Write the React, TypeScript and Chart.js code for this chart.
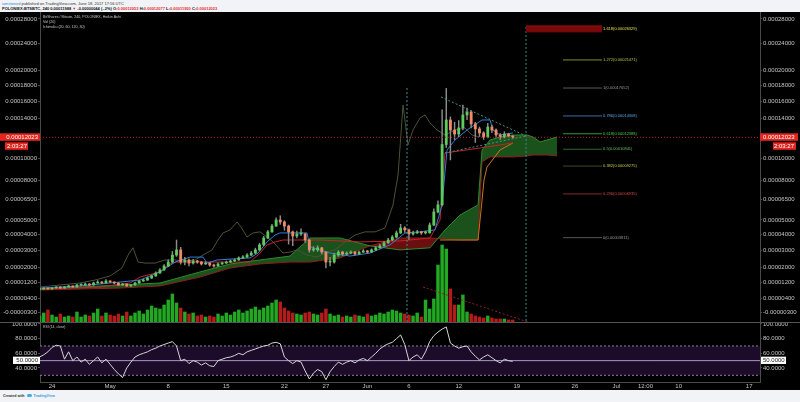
import React, { useEffect, useRef } from 'react';
import Chart from 'chart.js/auto';

// BTS/BTC Heikin Ashi bars, resampled to 12h, prices in satoshi (1e-8 BTC).
// x positions are days counted from Apr 24 2017.
const candleStart = -1.5;
const candleStep = 0.5;
// [open, high, low, close]
const candles = [
  [830, 880, 810, 850], [850, 920, 840, 900], [900, 910, 830, 850], [850, 930, 840, 900],
  [900, 980, 890, 955], [955, 970, 880, 900], [900, 990, 890, 955], [955, 1050, 940, 1010],
  [1010, 1020, 930, 955], [955, 1100, 950, 1060], [1060, 1110, 1010, 1060], [1060, 1160, 1040, 1110],
  [1110, 1130, 1030, 1060], [1060, 1210, 1050, 1165], [1165, 1290, 1150, 1215], [1215, 1240, 1130, 1165],
  [1165, 1340, 1150, 1270], [1270, 1290, 1190, 1215], [1215, 1230, 1120, 1165], [1165, 1180, 1030, 1060],
  [1060, 1150, 1040, 1110], [1110, 1120, 990, 1010], [1010, 1100, 990, 1060], [1060, 1210, 1050, 1165],
  [1165, 1320, 1150, 1270], [1270, 1380, 1250, 1320], [1320, 1480, 1300, 1430], [1430, 1600, 1400, 1540],
  [1540, 1760, 1520, 1700], [1700, 1950, 1680, 1870], [1870, 2180, 1850, 2090], [2090, 2450, 2050, 2320],
  [2320, 2950, 2280, 2730], [2730, 3660, 2650, 3040], [3040, 3200, 2200, 2320], [2320, 2600, 2150, 2440],
  [2440, 2500, 2100, 2260], [2260, 2480, 2200, 2380], [2380, 2420, 2250, 2320], [2320, 2360, 2150, 2210],
  [2210, 2330, 2180, 2260], [2260, 2290, 2080, 2150], [2150, 2200, 2030, 2090], [2090, 2270, 2070, 2210],
  [2210, 2320, 2190, 2260], [2260, 2380, 2240, 2320], [2320, 2440, 2300, 2380], [2380, 2500, 2350, 2440],
  [2440, 2630, 2420, 2560], [2560, 2700, 2530, 2610], [2610, 2820, 2590, 2730], [2730, 2950, 2700, 2850],
  [2850, 3150, 2820, 3040], [3040, 3450, 3000, 3350], [3350, 3900, 3300, 3790], [3790, 4300, 3750, 4190],
  [4190, 4700, 4150, 4580], [4580, 5150, 4550, 5000], [5000, 5300, 4700, 4860], [4860, 4950, 4300, 4580],
  [4580, 4650, 3400, 4190], [4190, 4250, 3300, 3920], [3920, 4250, 3800, 4050], [4050, 4400, 3950, 4050],
  [4050, 4100, 3500, 3660], [3660, 3700, 2900, 3040], [3040, 3250, 2950, 3040], [3040, 3300, 2950, 3170],
  [3170, 3200, 2800, 2910], [2910, 2950, 1980, 2320], [2320, 2600, 2100, 2320], [2320, 2850, 2250, 2730],
  [2730, 3000, 2650, 2910], [2910, 2960, 2700, 2790], [2790, 2920, 2740, 2850], [2850, 2990, 2800, 2910],
  [2910, 2950, 2720, 2790], [2790, 2970, 2760, 2910], [2910, 3060, 2880, 2980], [2980, 3010, 2850, 2910],
  [2910, 3110, 2890, 3040], [3040, 3250, 3000, 3170], [3170, 3380, 3140, 3290], [3290, 3580, 3250, 3480],
  [3480, 3760, 3450, 3660], [3660, 3950, 3620, 3850], [3850, 4250, 3800, 4120], [4120, 4700, 4080, 4450],
  [4450, 4550, 4150, 4320], [4320, 4380, 3700, 4050], [4050, 4250, 3980, 4120], [4120, 4300, 4080, 4190],
  [4190, 4230, 4020, 4120], [4120, 4250, 4050, 4120], [4120, 4800, 4100, 4650], [4650, 5800, 4600, 5570],
  [5570, 6400, 5500, 6100], [6100, 15000, 6000, 11300], [11300, 17600, 11000, 13860], [13860, 14200, 9830, 12780],
  [12780, 13600, 11800, 12360], [12360, 13800, 12100, 13000], [13000, 15570, 12800, 14420], [14420, 15200, 13900, 14770],
  [14770, 14900, 13000, 13430], [13430, 13600, 11500, 12890], [12890, 13100, 12100, 12470], [12470, 12600, 11800, 12050],
  [12050, 13500, 11950, 13100], [13100, 13300, 12500, 12780], [12780, 12900, 12000, 12260], [12260, 12400, 11800, 12050],
  [12050, 12600, 11950, 12360], [12360, 12450, 12000, 12160], [12160, 12200, 11950, 12023],
];
const volumes = [
  6, 9, 12, 7, 5, 8, 5, 6, 5, 10,
  5, 7, 6, 9, 13, 6, 9, 7, 6, 8,
  6, 10, 6, 9, 11, 8, 12, 16, 14, 13,
  17, 22, 28, 19, 14, 10, 8, 9, 6, 7,
  5, 6, 5, 8, 6, 9, 7, 10, 12, 9,
  11, 13, 15, 12, 14, 16, 19, 22, 20, 14,
  11, 9, 8, 7, 9, 10, 8, 7, 9, 13,
  8, 6, 7, 5, 6, 5, 7, 6, 5, 8,
  6, 7, 9, 8, 10, 12, 11, 9, 8, 7,
  6, 9, 5, 22, 13, 23, 57, 77, 73, 33,
  17, 17, 27, 10, 8, 6, 5, 4, 6, 4,
  3, 3, 3, 2, 2,
];
const rsiValues = [
  55, 58, 62, 68, 71, 70, 52, 62, 50, 55,
  48, 52, 45, 50, 55, 47, 52, 45, 38, 32,
  27, 40, 48, 55, 58, 60, 62, 65, 67, 70,
  72, 74, 76, 70, 50, 52, 46, 50, 48, 44,
  47, 43, 42, 50, 52, 54, 55, 57, 60, 58,
  62, 64, 66, 68, 70, 71, 74, 75, 73, 55,
  50, 46, 50, 48, 36, 25, 33, 38, 35, 24,
  35, 42, 48, 45, 48, 50, 47, 51, 53, 50,
  55, 60, 66, 70, 73, 75, 80, 85, 72, 50,
  55, 58, 52, 62, 76, 84, 89, 93, 96, 74,
  70, 67, 69, 70, 62, 56, 51, 55, 58, 54,
  50, 47, 52, 50, 49,
];

// ichimoku lines, [day, price]
const tenkanLine = [
  [-1.45, 900], [3.37, 1010], [6.99, 1165], [10.6, 1320], [13.01, 1760], [14.82, 2320], [16.63, 2610],
  [18.19, 2610], [18.67, 2260], [19.88, 2440], [23.86, 2560], [24.82, 2850], [25.9, 3540], [26.87, 3980],
  [27.47, 4120], [30.72, 4120], [31.08, 3230], [32.29, 3040], [33.49, 2850], [35.9, 2670], [38.31, 2850],
  [40.72, 3350], [42.53, 4120], [44.34, 4190], [46.14, 4320], [46.99, 6090], [47.59, 10770], [48.55, 11750],
  [50.0, 12780], [51.81, 13860], [52.77, 13860], [53.13, 12780], [53.98, 12260], [55.54, 12470],
];
const kijunLine = [
  [-1.45, 850], [5.78, 955], [9.4, 1165], [10.6, 1480], [13.01, 1760], [14.22, 2210], [15.0, 2320],
  [23.86, 2320], [25.06, 2850], [25.9, 3350], [26.87, 3540], [27.83, 3660], [32.29, 3660], [37.11, 3540],
  [41.93, 3600], [45.54, 3790], [46.75, 5000], [47.35, 10480], [52.41, 11060], [53.98, 11260], [55.54, 11460],
];
const orangeLine = [[46.75, 3660], [51.33, 3660], [52.05, 8070], [52.41, 9190], [53.98, 10770], [55.54, 11460]];
const laggingLine = [
  [-1.45, 955], [0.96, 1060], [3.37, 1165], [5.18, 1320], [6.99, 1540], [8.43, 1980], [9.16, 2730],
  [9.76, 3170], [10.36, 2320], [11.2, 2260], [12.41, 2260], [13.61, 2440], [14.82, 2440], [16.02, 2380],
  [17.23, 2440], [18.19, 2730], [19.28, 3040], [20.0, 3660], [20.6, 4120], [21.45, 4320], [22.29, 4860],
  [22.77, 4520], [23.49, 3850], [24.22, 4120], [25.06, 4190], [25.9, 3850], [26.63, 3540], [27.83, 2850],
  [28.67, 2910], [29.52, 3040], [30.72, 2730], [31.93, 2610], [33.13, 2910], [34.1, 3040], [35.3, 3540],
  [36.51, 3980], [37.71, 4190], [38.92, 4190], [40.12, 4450], [41.08, 6090], [41.69, 8500], [42.29, 15570],
  [42.89, 11260], [43.49, 12780], [44.34, 14080], [44.94, 14420], [45.54, 13540], [46.39, 12780],
  [47.35, 12260], [48.55, 12780], [49.76, 12990], [50.6, 12260], [51.45, 12050],
];
const cloudDays = [
  -1.45, 3.37, 8.19, 13.01, 17.83, 21.45, 25.06, 28.67, 31.08, 34.7, 38.31, 41.93, 45.54,
  47.35, 49.16, 51.33, 51.81, 52.77, 53.98, 55.54, 57.23, 57.95, 58.8, 59.64, 60.84,
];
const spanA = [
  850, 955, 1060, 1165, 1760, 2210, 2440, 2670, 3790, 3790, 3290, 3040, 3170,
  4320, 5350, 6090, 10770, 11750, 12050, 12260, 12260, 12050, 11550, 11750, 12050,
];
const spanB = [
  800, 850, 900, 1010, 1480, 1980, 2210, 2320, 2320, 2560, 3290, 3790, 3790,
  3720, 3660, 3660, 9650, 10110, 10110, 10110, 10200, 10290, 10290, 10290, 10200,
];

// drawings
const fibRatios = ['1.618', '1.272', '1', '0.786', '0.618', '0.5', '0.382', '0.236', '0'];
const fibPrices = [26329, 21471, 17652, 14308, 12388, 10841, 9275, 6935, 3811];
const fibFromDay = 61.57;
const fibToDay = 66.27;
const fibBandDay = 57.11;
const fibBand = [25800, 26800];
const triangleUpper = [[46.87, 16530], [57.11, 12160]];
const triangleLower = [[47.35, 10480], [57.11, 12160]];
const markerA = [[42.77, 17660], [42.77, -714]];
const markerB = [[57.11, 26630], [57.11, -714]];
const volumeTrend = [[44.7, 955], [57.35, -714]];

const priceTicks = [28000, 24000, 20000, 18000, 16000, 14000, 10000, 8000, 6500, 5000, 4000, 3000, 2000, 1200, 400, -300];
const rsiTicks = [40, 60, 80, 100];
const rsiLevels = [70, 30, 50];
const dateTicks = [0, 7, 14, 21, 28, 33, 38, 43, 49, 56, 63, 68, 71.5, 75.5, 84];
const dateLabels = ['24', 'May', '8', '15', '22', '27', 'Jun', '6', '12', '19', '26', 'Jul', '12:00', '10', '17'];

const priceMin = -714;
const priceMax = 29230;
const xMin = -1.45;
const xMax = 85.3;
const volAxisMax = 310;
const rsiMin = 20.9;
const rsiMax = 102.7;

// the price pane uses a shifted log scale (it shows negative ticks)
const toAxis = (sat) => Math.log(sat / 1000 + 10.4);
const fromAxis = (v) => (Math.exp(v) - 10.4) * 1000;

const fibLineColors = ['#d04848', '#7f8f2a', '#5a5a5a', '#3b6ea8', '#2f9a2f', '#2f6a2f', '#3e4a2a', '#8a2a2a', '#555555'];
const fibTextColors = ['#e8e040', '#b8c848', '#9a9a9a', '#5aa8e8', '#44d044', '#66c266', '#c8c850', '#d84848', '#9a9a9a'];
const FONT = 'Liberation Sans';
const axisFont = { family: FONT, size: 6 };
const axisColor = '#4a4a4a';
const labelColor = '#c4c4c4';

const candleDay = (i) => candleStart + i * candleStep;

const line = (points, color, extra = {}) => ({
  type: 'line',
  data: points.map(([d, p]) => ({ x: d, y: toAxis(p) })),
  borderColor: color,
  borderWidth: 1,
  pointRadius: 0,
  fill: false,
  tension: 0,
  ...extra,
});

const sideAxis = (position, ticks, fmt, min, max) => ({
  type: 'linear',
  position,
  min,
  max,
  afterFit: (s) => {
    s.width = 40;
    s.paddingTop = 0;
    s.paddingBottom = 0;
  },
  afterBuildTicks: (s) => {
    s.ticks = ticks.map((v) => ({ value: v }));
  },
  grid: { display: true, drawOnChartArea: false, tickLength: 2, color: axisColor },
  border: { display: true, color: axisColor },
  ticks: { color: labelColor, font: axisFont, padding: 1, autoSkip: false, callback: fmt },
});

const priceLabel = (v) => (Math.round(fromAxis(v)) / 1e8).toFixed(8);

const mainOverlay = {
  id: 'mainOverlay',
  afterDatasetsDraw(chart) {
    const { ctx, scales } = chart;
    ctx.save();
    ctx.textBaseline = 'middle';
    ctx.textAlign = 'left';
    ctx.font = `4px "${FONT}"`;
    fibRatios.forEach((r, i) => {
      ctx.fillStyle = fibTextColors[i];
      ctx.fillText(
        `${r}(${(fibPrices[i] / 1e8).toFixed(8)})`,
        scales.x.getPixelForValue(fibToDay) + 1,
        scales.y.getPixelForValue(toAxis(fibPrices[i])),
      );
    });
    ctx.fillStyle = '#c8c8c8';
    ctx.font = `3.6px "${FONT}"`;
    ['BitShares / Bitcoin, 240, POLONIEX, Heikin Ashi', 'Vol (20)', 'Ichimoku (20, 60, 120, 30)'].forEach((t, i) => {
      ctx.fillText(t, 43, 5.3 + i * 5);
    });
    ctx.restore();
  },
  afterDraw(chart) {
    const { ctx, scales } = chart;
    const last = candles[candles.length - 1][3];
    const py = scales.y.getPixelForValue(toAxis(last));
    const text = (last / 1e8).toFixed(8);
    ctx.save();
    ctx.fillStyle = '#e3261f';
    ctx.fillRect(0, py - 4, 40, 7.5);
    ctx.fillRect(760, py - 4, 38, 7.5);
    ctx.fillRect(5, py + 5, 23, 7.5);
    ctx.fillRect(773, py + 5, 23, 7.5);
    ctx.fillStyle = '#ffffff';
    ctx.font = `6px "${FONT}"`;
    ctx.textBaseline = 'middle';
    ctx.textAlign = 'right';
    ctx.fillText(text, 38, py - 0.2);
    ctx.fillText('2:03:27', 27, py + 8.8);
    ctx.textAlign = 'left';
    ctx.fillText(text, 763, py - 0.2);
    ctx.fillText('2:03:27', 774, py + 8.8);
    ctx.restore();
  },
};

const rsiOverlay = {
  id: 'rsiOverlay',
  afterDraw(chart) {
    const { ctx, scales } = chart;
    const py = scales.y.getPixelForValue(50);
    ctx.save();
    ctx.strokeStyle = '#555555';
    ctx.beginPath();
    ctx.moveTo(0, 0.5);
    ctx.lineTo(800, 0.5);
    ctx.stroke();
    ctx.fillStyle = '#c8c8c8';
    ctx.font = `3.4px "${FONT}"`;
    ctx.textBaseline = 'middle';
    ctx.fillText('RSI (14, close)', 43, 5.5);
    ctx.fillStyle = '#ffffff';
    ctx.fillRect(13, py - 4, 27, 7.3);
    ctx.fillRect(761, py - 4, 25, 7.3);
    ctx.fillStyle = '#222222';
    ctx.font = `6px "${FONT}"`;
    ctx.textAlign = 'right';
    ctx.fillText('50.0000', 38, py);
    ctx.textAlign = 'left';
    ctx.fillText('50.0000', 763, py);
    ctx.restore();
  },
};

function mainConfig() {
  const rising = candles.map(([o, , , c]) => c >= o);
  const datasets = [
    line([[fibBandDay, fibBand[1]], [fibToDay, fibBand[1]]], '#9a1010', { order: 0 }),
    line([[fibBandDay, fibBand[0]], [fibToDay, fibBand[0]]], '#6a0808', {
      order: 0,
      fill: '-1',
      backgroundColor: '#7a0a0a',
    }),
    ...fibPrices.map((p, i) => line([[fibFromDay, p], [fibToDay, p]], fibLineColors[i], { order: 0 })),
    line(triangleUpper, '#3f9486', { order: 1, borderDash: [2, 2] }),
    line(triangleLower, '#3f9486', { order: 1, borderDash: [2, 2] }),
    line(markerA, '#3a8e8e', { order: 1, borderDash: [2, 2] }),
    line(markerB, '#3a8e8e', { order: 1, borderDash: [2, 2] }),
    line(volumeTrend, '#8a2222', { order: 1, borderDash: [2, 2] }),
    line([[xMin, candles[candles.length - 1][3]], [xMax, candles[candles.length - 1][3]]], '#b42222', {
      order: 2,
      borderDash: [1, 2],
    }),
    {
      type: 'bar',
      order: 3,
      grouped: false,
      barThickness: 2.2,
      minBarLength: 1,
      data: candles.map(([o, , , c], i) => ({ x: candleDay(i), y: [toAxis(o), toAxis(c)] })),
      backgroundColor: rising.map((r) => (r ? '#5ccb5c' : '#f08a66')),
      borderWidth: 0,
    },
    {
      type: 'bar',
      order: 4,
      grouped: false,
      barThickness: 0.8,
      data: candles.map(([, h, l], i) => ({ x: candleDay(i), y: [toAxis(l), toAxis(h)] })),
      backgroundColor: '#8c8c8c',
      borderWidth: 0,
    },
    line(tenkanLine, '#2f7fd8', { order: 5 }),
    line(kijunLine, '#c8202a', { order: 5 }),
    line(orangeLine, '#c8781e', { order: 6 }),
    line(laggingLine, '#4a5236', { order: 7 }),
    line(cloudDays.map((d, i) => [d, spanA[i]]), '#2e8b2e', { order: 8 }),
    line(cloudDays.map((d, i) => [d, spanB[i]]), '#8f1b1b', {
      order: 8,
      fill: { target: '-1', above: '#6a0f0f', below: '#1b521b' },
    }),
    {
      type: 'bar',
      order: 9,
      grouped: false,
      yAxisID: 'yVol',
      barThickness: 2.8,
      data: volumes.map((v, i) => ({ x: candleDay(i), y: v })),
      backgroundColor: rising.map((r) => (r ? '#22a822' : '#b41c1c')),
      borderWidth: 0,
    },
  ];
  return {
    type: 'line',
    data: { datasets },
    options: {
      responsive: false,
      animation: false,
      events: [],
      layout: { padding: 0 },
      plugins: { legend: { display: false }, tooltip: { enabled: false } },
      scales: {
        x: { type: 'linear', min: xMin, max: xMax, offset: false, display: false },
        y: sideAxis('left', priceTicks.map(toAxis), priceLabel, toAxis(priceMin), toAxis(priceMax)),
        y2: sideAxis('right', priceTicks.map(toAxis), priceLabel, toAxis(priceMin), toAxis(priceMax)),
        yVol: { type: 'linear', display: false, min: 0, max: volAxisMax },
      },
    },
    plugins: [mainOverlay],
  };
}

function rsiConfig() {
  const level = (v, extra) => ({
    type: 'line',
    data: [{ x: xMin, y: v }, { x: xMax, y: v }],
    borderWidth: 1,
    pointRadius: 0,
    fill: false,
    ...extra,
  });
  const rsiFmt = (v) => Number(v).toFixed(4);
  return {
    type: 'line',
    data: {
      datasets: [
        level(rsiLevels[0], { order: 2, borderColor: '#8c7c9c', borderDash: [2, 2] }),
        level(rsiLevels[1], { order: 2, borderColor: '#8c7c9c', borderDash: [2, 2], fill: '-1', backgroundColor: '#1c0c2a' }),
        level(rsiLevels[2], { order: 1, borderColor: '#a898c4' }),
        {
          type: 'line',
          order: 0,
          data: rsiValues.map((v, i) => ({ x: candleDay(i), y: v })),
          borderColor: '#d4d4d4',
          borderWidth: 1,
          pointRadius: 0,
          fill: false,
          tension: 0,
        },
      ],
    },
    options: {
      responsive: false,
      animation: false,
      events: [],
      layout: { padding: 0 },
      plugins: { legend: { display: false }, tooltip: { enabled: false } },
      scales: {
        x: {
          type: 'linear',
          min: xMin,
          max: xMax,
          offset: false,
          afterFit: (s) => {
            s.height = 8;
            s.paddingLeft = 0;
            s.paddingRight = 0;
          },
          afterBuildTicks: (s) => {
            s.ticks = dateTicks.map((v) => ({ value: v }));
          },
          grid: { display: true, drawOnChartArea: false, drawTicks: false, color: axisColor },
          border: { display: true, color: axisColor },
          ticks: {
            color: labelColor,
            font: axisFont,
            padding: 1,
            autoSkip: false,
            maxRotation: 0,
            callback: (v, i) => dateLabels[i],
          },
        },
        y: sideAxis('left', rsiTicks, rsiFmt, rsiMin, rsiMax),
        y2: sideAxis('right', rsiTicks, rsiFmt, rsiMin, rsiMax),
      },
    },
    plugins: [rsiOverlay],
  };
}

export default function App() {
  const mainRef = useRef<HTMLCanvasElement>(null);
  const rsiRef = useRef<HTMLCanvasElement>(null);

  useEffect(() => {
    const main = new Chart(mainRef.current, mainConfig() as any);
    const rsi = new Chart(rsiRef.current, rsiConfig() as any);
    return () => {
      main.destroy();
      rsi.destroy();
    };
  }, []);

  const red = { color: '#e03030' };
  return (
    <div
      style={{
        position: 'fixed',
        left: 0,
        top: 0,
        width: 800,
        height: 402,
        background: '#f1f3f6',
        overflow: 'hidden',
        fontFamily: `"${FONT}", Arial, sans-serif`,
      }}
    >
      <div style={{ position: 'absolute', left: 2, top: 1, fontSize: 4, lineHeight: '5px', color: '#333', whiteSpace: 'nowrap' }}>
        <div>
          <span style={{ color: '#2a8fd6' }}>iamstoned</span> published on TradingView.com, June 18, 2017 17:56 UTC
        </div>
        <div style={{ fontWeight: 'bold', color: '#111' }}>
          POLONIEX:BTSBTC, 240 0.00011988 <span style={red}>▼</span> -0.00000044 (-.2%) O:<span style={red}>0.00012053</span> H:
          <span style={red}>0.00012077</span> L:<span style={red}>0.00011950</span> C:<span style={red}>0.00012023</span>
        </div>
      </div>
      <div style={{ position: 'absolute', left: 0, top: 12, width: 800, height: 378, background: '#000' }}>
        <canvas ref={mainRef} width={800} height={310} style={{ position: 'absolute', left: 0, top: 0 }} />
        <canvas ref={rsiRef} width={800} height={68} style={{ position: 'absolute', left: 0, top: 310 }} />
      </div>
      <div style={{ position: 'absolute', left: 3, top: 394, fontSize: 3.6, fontWeight: 'bold', color: '#333', whiteSpace: 'nowrap' }}>
        Created with{' '}
        <span style={{ display: 'inline-block', width: 5, height: 3, borderRadius: 2, background: '#4aa8e0', margin: '0 1px' }} />{' '}
        <span style={{ color: '#3a9ad9' }}>TradingView</span>
      </div>
    </div>
  );
}
